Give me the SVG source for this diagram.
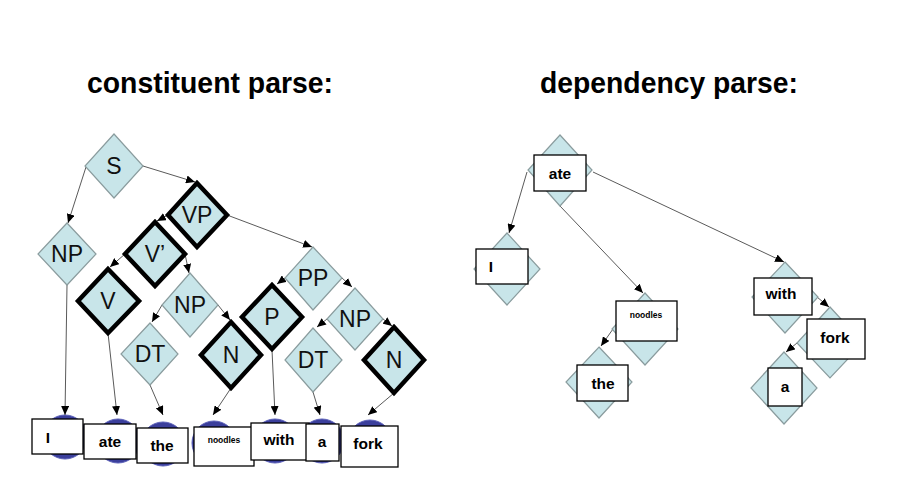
<svg xmlns="http://www.w3.org/2000/svg" width="915" height="501" viewBox="0 0 915 501">
<style>
.title{font-family:"Liberation Sans",Arial,sans-serif;font-weight:bold;font-size:29px;fill:#000}
.d{fill:#c8e5e9;stroke:#8a9c9e;stroke-width:1.2}
.dk{fill:#c8e5e9;stroke:#000;stroke-width:4.5;stroke-linejoin:miter}
.lbl{font-family:"Liberation Sans",Arial,sans-serif;font-size:23px;fill:#111;text-anchor:middle}
.box{fill:#fff;stroke:#000;stroke-width:1.3}
.w{font-family:"Liberation Sans",Arial,sans-serif;font-weight:bold;font-size:15.5px;fill:#000;text-anchor:middle}
.ws{font-family:"Liberation Sans",Arial,sans-serif;font-weight:bold;font-size:8.5px;fill:#000;text-anchor:middle}
.leaf{fill:#3b3f9c;stroke:#5a5fb8;stroke-width:1}
.e{stroke:#5a5a5a;stroke-width:1;fill:none;marker-end:url(#ah)}
</style>
<defs>
<marker id="ah" markerWidth="9" markerHeight="8" refX="9" refY="4" orient="auto" markerUnits="userSpaceOnUse">
<path d="M0,0 L9,4 L0,8 Z" fill="#000"/>
</marker>
</defs>
<rect width="915" height="501" fill="#fff"/>
<text class="title" x="87" y="93" textLength="246" lengthAdjust="spacingAndGlyphs">constituent parse:</text>
<text class="title" x="540" y="93" textLength="258" lengthAdjust="spacingAndGlyphs">dependency parse:</text>

<g id="leaves">
<circle class="leaf" cx="65" cy="437" r="22"/>
<circle class="leaf" cx="118" cy="441" r="22"/>
<circle class="leaf" cx="163" cy="444" r="22"/>
<circle class="leaf" cx="214" cy="443" r="22"/>
<circle class="leaf" cx="275" cy="441" r="22"/>
<circle class="leaf" cx="322" cy="441" r="22"/>
<circle class="leaf" cx="370" cy="442" r="22"/>
</g>

<g id="connectors">
<line class="e" x1="86" y1="167" x2="68" y2="223"/>
<line class="e" x1="143" y1="166" x2="195" y2="182"/>
<line class="e" x1="168" y1="215" x2="157" y2="221"/>
<line class="e" x1="227" y1="215" x2="312" y2="247"/>
<line class="e" x1="125" y1="254" x2="110" y2="267"/>
<line class="e" x1="185" y1="254" x2="189" y2="273"/>
<line class="e" x1="67" y1="285" x2="65" y2="415"/>
<line class="e" x1="108" y1="333" x2="117" y2="415"/>
<line class="e" x1="162" y1="305" x2="152" y2="322"/>
<line class="e" x1="218" y1="305" x2="230" y2="320"/>
<line class="e" x1="150" y1="385" x2="163" y2="415"/>
<line class="e" x1="231" y1="388" x2="213" y2="415"/>
<line class="e" x1="285" y1="278" x2="277" y2="284"/>
<line class="e" x1="342" y1="278" x2="352" y2="287"/>
<line class="e" x1="272" y1="350" x2="275" y2="415"/>
<line class="e" x1="327" y1="319" x2="317" y2="327"/>
<line class="e" x1="383" y1="319" x2="392" y2="326"/>
<line class="e" x1="313" y1="392" x2="320" y2="415"/>
<line class="e" x1="394" y1="393" x2="368" y2="415"/>
<line class="e" x1="527" y1="172" x2="509" y2="233"/>
<line class="e" x1="560" y1="206" x2="643" y2="293"/>
<line class="e" x1="593" y1="172" x2="784" y2="262"/>
<line class="e" x1="817" y1="297" x2="829" y2="307"/>
<line class="e" x1="613" y1="329" x2="601" y2="346"/>
<line class="e" x1="797" y1="343" x2="786" y2="352"/>
</g>

<g id="n-S"><polygon class="d" points="114,134 143,166 114,198 85,166"/><text class="lbl" x="114" y="174">S</text></g>
<g id="n-VP"><polygon class="dk" points="197,183 227,215 197,247 168,215"/><text class="lbl" x="197" y="223">VP</text></g>
<g id="n-NP1"><polygon class="d" points="67,223 96,254 67,285 38,254"/><text class="lbl" x="67" y="262">NP</text></g>
<g id="n-Vbar"><polygon class="dk" points="155,222 185,254 155,286 125,254"/><text class="lbl" x="155" y="262">V’</text></g>
<g id="n-PP"><polygon class="d" points="313,247 342,278 313,310 285,278"/><text class="lbl" x="313" y="286">PP</text></g>
<g id="n-V"><polygon class="dk" points="108,269 139,301 108,333 78,301"/><text class="lbl" x="108" y="309">V</text></g>
<g id="n-NP2"><polygon class="d" points="190,273 218,305 190,337 162,305"/><text class="lbl" x="190" y="313">NP</text></g>
<g id="n-DT1"><polygon class="d" points="150,323 178,354 150,385 121,354"/><text class="lbl" x="150" y="362">DT</text></g>
<g id="n-N1"><polygon class="dk" points="231,322 261,355 231,388 201,355"/><text class="lbl" x="231" y="363">N</text></g>
<g id="n-P"><polygon class="dk" points="272,285 302,317 272,349 242,317"/><text class="lbl" x="272" y="325">P</text></g>
<g id="n-NP3"><polygon class="d" points="355,288 383,319 355,350 327,319"/><text class="lbl" x="355" y="327">NP</text></g>
<g id="n-DT2"><polygon class="d" points="313,328 342,360 313,392 285,360"/><text class="lbl" x="313" y="368">DT</text></g>
<g id="n-N2"><polygon class="dk" points="394,327 424,360 394,393 364,360"/><text class="lbl" x="394" y="368">N</text></g>

<g id="w-I"><rect class="box" x="32" y="419" width="51" height="35"/><text class="w" x="48" y="443">I</text></g>
<g id="w-ate"><rect class="box" x="84" y="424" width="52" height="35"/><text class="w" x="110" y="447">ate</text></g>
<g id="w-the"><rect class="box" x="137" y="428" width="51" height="35"/><text class="w" x="162" y="451">the</text></g>
<g id="w-noodles"><rect class="box" x="194" y="427" width="60" height="39"/><text class="ws" x="224" y="443">noodles</text></g>
<g id="w-with"><rect class="box" x="251" y="423" width="58" height="37"/><text class="w" x="279" y="445">with</text></g>
<g id="w-a"><rect class="box" x="306" y="424" width="33" height="37"/><text class="w" x="322" y="447">a</text></g>
<g id="w-fork"><rect class="box" x="341" y="426" width="57" height="41"/><text class="w" x="368" y="449">fork</text></g>

<g id="d-ate"><polygon class="d" points="560,135 592,170 560,206 528,170"/><rect class="box" x="534" y="155" width="52" height="36"/><text class="w" x="560" y="179">ate</text></g>
<g id="d-I"><polygon class="d" points="507,233 540,269 507,305 474,269"/><rect class="box" x="476" y="249" width="52" height="35"/><text class="w" x="491" y="272">I</text></g>
<g id="d-noodles"><polygon class="d" points="645,293 678,329 645,365 612,329"/><rect class="box" x="616" y="301" width="61" height="40"/><text class="ws" x="646" y="318">noodles</text></g>
<g id="d-the"><polygon class="d" points="599,347 632,382 599,418 566,382"/><rect class="box" x="577" y="365" width="51" height="36"/><text class="w" x="603" y="389">the</text></g>
<g id="d-with"><polygon class="d" points="785,262 818,297 785,333 752,297"/><rect class="box" x="754" y="278" width="58" height="37"/><text class="w" x="781" y="299">with</text></g>
<g id="d-fork"><polygon class="d" points="830,307 863,343 830,378 797,343"/><rect class="box" x="807" y="319" width="58" height="40"/><text class="w" x="835" y="343">fork</text></g>
<g id="d-a"><polygon class="d" points="784,352 817,388 784,424 751,388"/><rect class="box" x="768" y="368" width="34" height="38"/><text class="w" x="785" y="392">a</text></g>
</svg>
